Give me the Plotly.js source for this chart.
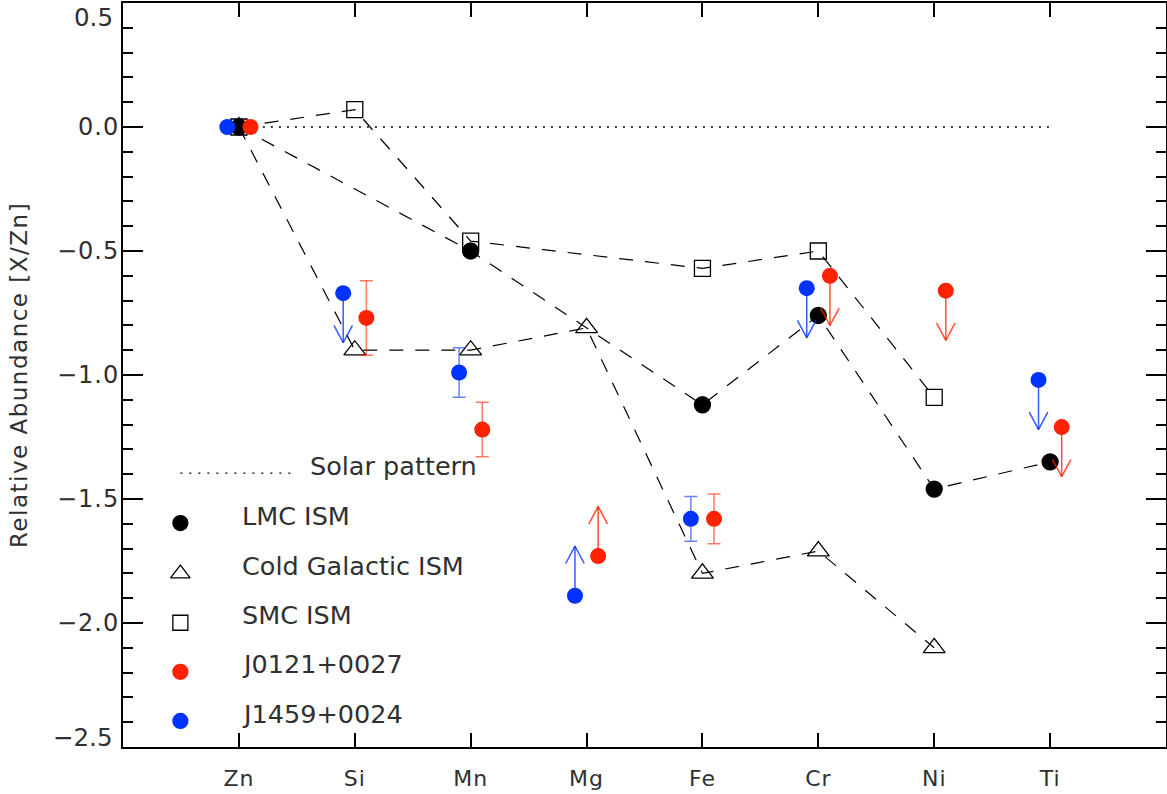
<!DOCTYPE html>
<html>
<head>
<meta charset="utf-8">
<script src="https://cdn.plot.ly/plotly-3.0.1.min.js"></script>
<style>
  html, body { margin: 0; padding: 0; background: #fff; }
  #chart { width: 1167px; height: 794px; }
  #chart .ytick text, #chart .xtick text { letter-spacing: 1px; }
  #chart .g-ytitle text { letter-spacing: 1.5px; }
</style>
</head>
<body>
<div id="chart"></div>
<script>
// Element order along the x axis
const elements = ['Zn', 'Si', 'Mn', 'Mg', 'Fe', 'Cr', 'Ni', 'Ti'];

// Solar pattern: [X/Zn] = 0 everywhere
const solarValues = [0, 0, 0, 0, 0, 0, 0, 0];

// Reference depletion patterns
const lmcElements = ['Zn', 'Mn', 'Fe', 'Cr', 'Ni', 'Ti'];
const lmcValues = [0, -0.50, -1.12, -0.76, -1.46, -1.35];

const coldElements = ['Zn', 'Si', 'Mn', 'Mg', 'Fe', 'Cr', 'Ni'];
const coldValues = [0, -0.90, -0.90, -0.81, -1.80, -1.71, -2.10];

const smcElements = ['Zn', 'Si', 'Mn', 'Fe', 'Cr', 'Ni'];
const smcValues = [0, 0.07, -0.46, -0.57, -0.50, -1.09];

// Absorbers: value, 1-sigma error (null = none), limit flag
const j0121Elements = ['Zn', 'Si', 'Mn', 'Mg', 'Fe', 'Cr', 'Ni', 'Ti'];
const j0121Values = [0, -0.77, -1.22, -1.73, -1.58, -0.60, -0.66, -1.21];
const j0121Errors = [null, 0.15, 0.11, null, 0.10, null, null, null];
const j0121Limits = [null, null, null, 'lower', null, 'upper', 'upper', 'upper'];

const j1459Elements = ['Zn', 'Si', 'Mn', 'Mg', 'Fe', 'Cr', 'Ti'];
const j1459Values = [0, -0.67, -0.99, -1.89, -1.58, -0.65, -1.02];
const j1459Errors = [null, null, 0.10, null, 0.09, null, null];
const j1459Limits = [null, 'upper', null, 'lower', null, 'upper', 'upper'];

// Y axis major ticks
const yTickValues = [-2.5, -2.0, -1.5, -1.0, -0.5, 0.0, 0.5];

// Legend labels
const legendLabels = ['Solar pattern', 'LMC ISM', 'Cold Galactic ISM', 'SMC ISM', 'J0121+0027', 'J1459+0024'];

// ---- styling ----
const RED = '#ff2200';
const BLUE = '#0033ff';
const RED_ERR = 'rgba(255,34,0,0.6)';
const BLUE_ERR = 'rgba(0,51,255,0.6)';
const RED_ARR = 'rgba(255,34,0,0.8)';
const BLUE_ARR = 'rgba(0,51,255,0.8)';
const TEXT = '#303030';
const FONT = 'DejaVu Sans, sans-serif';
const DASH = '14px,12px';
const ARROW_LEN = 0.2;   // length of limit arrows, dex
const HEAD_DX = 0.08;    // half-width of arrowhead, x units
const HEAD_DY = 0.07;    // depth of arrowhead, dex

const xpos = (el, off) => elements.indexOf(el) + 1 + (off || 0);
const fmt = v => (v < 0 ? '\u2212' : '') + Math.abs(v).toFixed(1);

function patternTrace(els, vals, symbol, size) {
  return {
    x: els.map(e => xpos(e)), y: vals,
    type: 'scatter', mode: 'lines+markers',
    line: { color: '#000', width: 1.2, dash: DASH },
    marker: { symbol: symbol, size: size, color: '#000', line: { color: '#000', width: 1.3 } },
    hoverinfo: 'skip', showlegend: false
  };
}

function errorTrace(els, vals, errs, off, color) {
  const x = [], y = [], e = [];
  els.forEach((el, i) => {
    if (errs[i] !== null) { x.push(xpos(el, off)); y.push(vals[i]); e.push(errs[i]); }
  });
  return {
    x: x, y: y, type: 'scatter', mode: 'markers',
    marker: { size: 1, color: 'rgba(0,0,0,0)' },
    error_y: { type: 'data', array: e, visible: true, color: color, thickness: 1.5, width: 6.5 },
    hoverinfo: 'skip', showlegend: false
  };
}

function limitTrace(els, vals, lims, off, color) {
  const x = [], y = [];
  els.forEach((el, i) => {
    const lim = lims[i];
    if (!lim) return;
    const xc = xpos(el, off);
    const sgn = lim === 'upper' ? -1 : 1;
    const tip = vals[i] + sgn * ARROW_LEN;
    x.push(xc, xc, null, xc - HEAD_DX, xc, xc + HEAD_DX, null);
    y.push(vals[i], tip, null, tip - sgn * HEAD_DY, tip, tip - sgn * HEAD_DY, null);
  });
  return {
    x: x, y: y, type: 'scatter', mode: 'lines',
    line: { color: color, width: 1.5 }, connectgaps: false,
    hoverinfo: 'skip', showlegend: false
  };
}

function pointTrace(els, vals, off, color) {
  return {
    x: els.map(e => xpos(e, off)), y: vals, type: 'scatter', mode: 'markers',
    marker: { symbol: 'circle', size: 16, color: color },
    hoverinfo: 'skip', showlegend: false
  };
}

const traces = [
  {
    x: elements.map(e => xpos(e)), y: solarValues, type: 'scatter', mode: 'lines',
    line: { color: '#000', width: 1.3, dash: '2px,6px' }, hoverinfo: 'skip', showlegend: false
  },
  patternTrace(coldElements, coldValues, 'triangle-up-open', 19),
  patternTrace(smcElements, smcValues, 'square-open', 16),
  patternTrace(lmcElements, lmcValues, 'circle', 16),
  errorTrace(j0121Elements, j0121Values, j0121Errors, 0.1, RED_ERR),
  errorTrace(j1459Elements, j1459Values, j1459Errors, -0.1, BLUE_ERR),
  limitTrace(j0121Elements, j0121Values, j0121Limits, 0.1, RED_ARR),
  limitTrace(j1459Elements, j1459Values, j1459Limits, -0.1, BLUE_ARR),
  pointTrace(j1459Elements, j1459Values, -0.1, BLUE),
  pointTrace(j0121Elements, j0121Values, 0.1, RED)
];

// Legend block drawn inside the plotting area (overlay axes spanning 0..1)
const L_MARK_X = 0.055;
const L_TEXT_X = 0.112;
const legendRowsY = [0.378, 0.310, 0.243, 0.177, 0.111, 0.045];
const legendMarkY = [0.301, 0.233, 0.167, 0.101, 0.035];
const legendSymbols = [
  { symbol: 'circle', color: '#000', size: 15 },
  { symbol: 'triangle-up-open', color: '#000', size: 17 },
  { symbol: 'square-open', color: '#000', size: 15 },
  { symbol: 'circle', color: RED, size: 15 },
  { symbol: 'circle', color: BLUE, size: 15 }
];
traces.push({
  x: [0.055, 0.165], y: [0.368, 0.368], xaxis: 'x2', yaxis: 'y2',
  type: 'scatter', mode: 'lines', line: { color: '#000', width: 1.3, dash: '2px,7px' },
  hoverinfo: 'skip', showlegend: false
});
legendSymbols.forEach((s, i) => {
  traces.push({
    x: [L_MARK_X], y: [legendMarkY[i]], xaxis: 'x2', yaxis: 'y2',
    type: 'scatter', mode: 'markers',
    marker: { symbol: s.symbol, size: s.size, color: s.color, line: { color: s.color, width: 1.3 } },
    hoverinfo: 'skip', showlegend: false
  });
});

const annotations = legendLabels.map((t, i) => ({
  text: t, xref: 'paper', yref: 'paper',
  x: i === 0 ? 0.177 : L_TEXT_X, y: legendRowsY[i],
  xanchor: 'left', yanchor: 'middle', showarrow: false,
  font: { family: FONT, size: 25.5, color: TEXT }
}));

// End labels of the y axis are set slightly inside the frame
const yTop = yTickValues[yTickValues.length - 1];
const yBottom = yTickValues[0];
annotations.push(
  { text: fmt(yTop), xref: 'paper', yref: 'paper', x: 0, y: 1, xanchor: 'right', yanchor: 'top',
    xshift: -8, yshift: 2, showarrow: false, font: { family: FONT, size: 24.5, color: TEXT } },
  { text: fmt(yBottom), xref: 'paper', yref: 'paper', x: 0, y: 0.013, xanchor: 'right', yanchor: 'middle',
    xshift: -8, showarrow: false, font: { family: FONT, size: 24.5, color: TEXT } }
);

const layout = {
  width: 1167, height: 794,
  margin: { l: 123, r: 1, t: 3, b: 47 },
  paper_bgcolor: '#fff', plot_bgcolor: '#fff',
  showlegend: false,
  font: { family: FONT, color: TEXT },
  xaxis: {
    range: [0, 9], tickvals: elements.map(e => xpos(e)), ticktext: elements,
    ticks: 'inside', ticklen: 14, tickwidth: 2, tickcolor: '#000',
    showline: true, linewidth: 2, linecolor: '#000', mirror: 'ticks',
    showgrid: false, zeroline: false, ticklabelstandoff: 11,
    tickfont: { family: FONT, size: 22, color: TEXT }
  },
  yaxis: {
    range: [yBottom, yTop], tickvals: yTickValues,
    ticktext: yTickValues.map((v, i) => (i === 0 || i === yTickValues.length - 1) ? '' : fmt(v)),
    ticks: 'inside', ticklen: 20, tickwidth: 2, tickcolor: '#000',
    minor: { dtick: 0.1, tick0: 0, ticks: 'inside', ticklen: 10, tickwidth: 2, tickcolor: '#000', showgrid: false },
    showline: true, linewidth: 2, linecolor: '#000', mirror: 'ticks',
    showgrid: false, zeroline: false, ticklabelstandoff: -3,
    tickfont: { family: FONT, size: 24, color: TEXT },
    title: { text: 'Relative Abundance [X/Zn]', standoff: 27, font: { family: FONT, size: 23, color: TEXT } }
  },
  xaxis2: { overlaying: 'x', range: [0, 1], visible: false, fixedrange: true },
  yaxis2: { overlaying: 'y', range: [0, 1], visible: false, fixedrange: true },
  annotations: annotations
};

Plotly.newPlot('chart', traces, layout, { staticPlot: true, displayModeBar: false });
</script>
</body>
</html>
